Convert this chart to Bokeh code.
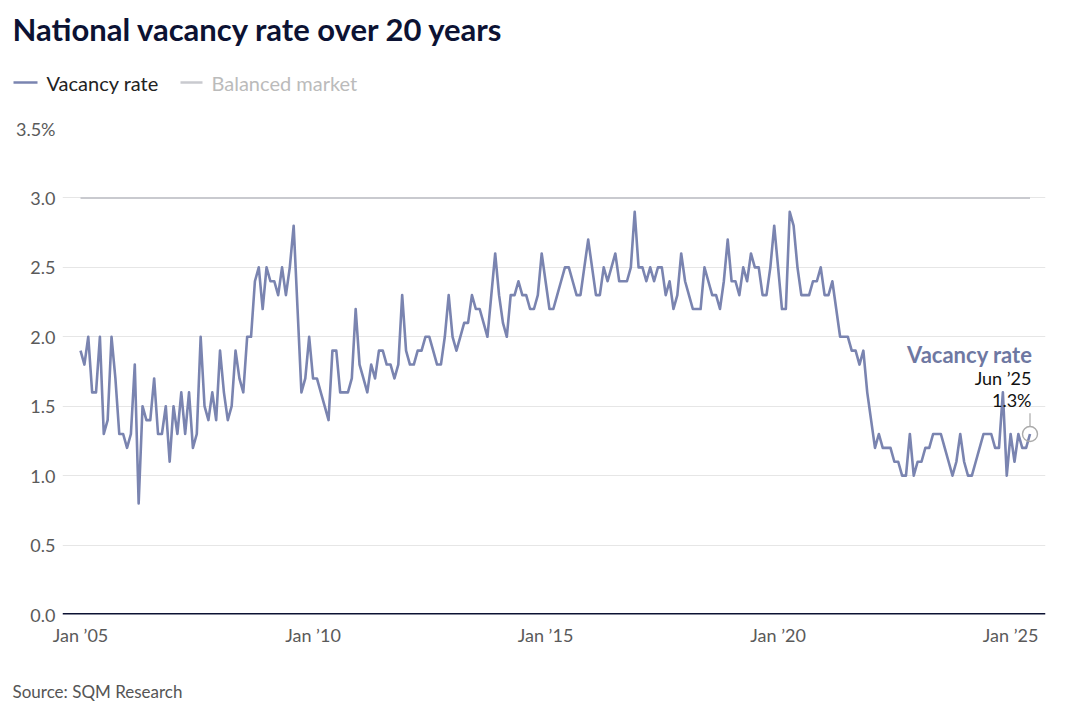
from bokeh.plotting import figure
from bokeh.layouts import column
from bokeh.models import Range1d, FixedTicker, Label, Span
from bokeh.embed import file_html
from bokeh.resources import INLINE

# Monthly national vacancy rate (%), Jan 2005 .. Jun 2025
vacancy_rate = [
    1.9, 1.8, 2.0, 1.6, 1.6, 2.0, 1.3, 1.4, 2.0, 1.7, 1.3, 1.3,
    1.2, 1.3, 1.8, 0.8, 1.5, 1.4, 1.4, 1.7, 1.3, 1.3, 1.5, 1.1,
    1.5, 1.3, 1.6, 1.3, 1.6, 1.2, 1.3, 2.0, 1.5, 1.4, 1.6, 1.4,
    1.9, 1.6, 1.4, 1.5, 1.9, 1.7, 1.6, 2.0, 2.0, 2.4, 2.5, 2.2,
    2.5, 2.4, 2.4, 2.3, 2.5, 2.3, 2.5, 2.8, 2.2, 1.6, 1.7, 2.0,
    1.7, 1.7, 1.6, 1.5, 1.4, 1.9, 1.9, 1.6, 1.6, 1.6, 1.7, 2.2,
    1.8, 1.7, 1.6, 1.8, 1.7, 1.9, 1.9, 1.8, 1.8, 1.7, 1.8, 2.3,
    1.9, 1.8, 1.8, 1.9, 1.9, 2.0, 2.0, 1.9, 1.8, 1.8, 2.0, 2.3,
    2.0, 1.9, 2.0, 2.1, 2.1, 2.3, 2.2, 2.2, 2.1, 2.0, 2.3, 2.6,
    2.3, 2.1, 2.0, 2.3, 2.3, 2.4, 2.3, 2.3, 2.2, 2.2, 2.3, 2.6,
    2.4, 2.2, 2.2, 2.3, 2.4, 2.5, 2.5, 2.4, 2.3, 2.3, 2.5, 2.7,
    2.5, 2.3, 2.3, 2.5, 2.4, 2.5, 2.6, 2.4, 2.4, 2.4, 2.5, 2.9,
    2.5, 2.5, 2.4, 2.5, 2.4, 2.5, 2.5, 2.3, 2.4, 2.2, 2.3, 2.6,
    2.4, 2.3, 2.2, 2.2, 2.2, 2.5, 2.4, 2.3, 2.3, 2.2, 2.4, 2.7,
    2.4, 2.4, 2.3, 2.5, 2.4, 2.6, 2.5, 2.5, 2.3, 2.3, 2.5, 2.8,
    2.5, 2.2, 2.2, 2.9, 2.8, 2.5, 2.3, 2.3, 2.3, 2.4, 2.4, 2.5,
    2.3, 2.3, 2.4, 2.2, 2.0, 2.0, 2.0, 1.9, 1.9, 1.8, 1.9, 1.6,
    1.4, 1.2, 1.3, 1.2, 1.2, 1.2, 1.1, 1.1, 1.0, 1.0, 1.3, 1.0,
    1.1, 1.1, 1.2, 1.2, 1.3, 1.3, 1.3, 1.2, 1.1, 1.0, 1.1, 1.3,
    1.1, 1.0, 1.0, 1.1, 1.2, 1.3, 1.3, 1.3, 1.2, 1.2, 1.6, 1.0,
    1.3, 1.1, 1.3, 1.2, 1.2, 1.3,
]
balanced_market = 3.0

x_tick_months = [0, 60, 120, 180, 240]
x_tick_labels = ["Jan \u201905", "Jan \u201910", "Jan \u201915", "Jan \u201920", "Jan \u201925"]
y_ticks = [0.0, 0.5, 1.0, 1.5, 2.0, 2.5, 3.0, 3.5]
y_tick_labels = ["0.0", "0.5", "1.0", "1.5", "2.0", "2.5", "3.0", "3.5%"]

title_text = "National vacancy rate over 20 years"
source_text = "Source: SQM Research"
series_name = "Vacancy rate"
balanced_name = "Balanced market"
last_period = "Jun \u201925"

months = list(range(len(vacancy_rate)))

FONT = "Lato"
LINE_COLOR = "#7a84b0"
GREY_LINE = "#c9cacf"
NAVY = "#0c1233"

HEADER_H = 110
MAIN_H = 550
FOOTER_H = 714 - HEADER_H - MAIN_H


def blank_panel(h):
    f = figure(width=1080, height=h, output_backend="svg", toolbar_location=None,
               x_range=Range1d(0, 1080), y_range=Range1d(h, 0),
               x_axis_type=None, y_axis_type=None,
               min_border_left=0, min_border_right=0, min_border_top=0,
               min_border_bottom=0)
    f.frame_align = False
    f.title.visible = False
    f.outline_line_color = None
    f.background_fill_color = "white"
    f.border_fill_color = "white"
    return f


# ---------------- header: title + legend (pixel space) ----------------
head = blank_panel(HEADER_H)
head.add_layout(Label(x=12, y=28, text=title_text, text_align="left",
                      text_baseline="alphabetic", text_font=FONT,
                      text_font_style="bold", text_font_size="31px", text_color=NAVY))

legend_names = [series_name, balanced_name]
legend_colors = [LINE_COLOR, GREY_LINE]
legend_text_colors = ["#222222", "#bbbbbb"]
legend_x0 = [13, 180]
legend_x1 = [37, 202]
LEG_Y = 82
head.segment(x0=legend_x0, y0=[LEG_Y] * 2, x1=legend_x1, y1=[LEG_Y] * 2,
             line_color=legend_colors, line_width=2.6)
for name, x1, tc in zip(legend_names, legend_x1, legend_text_colors):
    head.add_layout(Label(x=x1 + 9, y=LEG_Y, text=name, text_align="left",
                          text_baseline="middle", text_font=FONT,
                          text_font_size="20px", text_color=tc))

# ---------------- main chart ----------------
p = figure(width=1080, height=MAIN_H, output_backend="svg", toolbar_location=None,
           x_range=Range1d(-4.65, 249.0), y_range=Range1d(0, 3.5),
           min_border_left=62, min_border_right=35, min_border_top=18,
           min_border_bottom=MAIN_H - 18 - 486)
p.frame_align = False
p.title.visible = False
p.outline_line_color = None
p.background_fill_color = "white"
p.border_fill_color = "white"

p.xaxis.ticker = FixedTicker(ticks=x_tick_months)
p.xaxis.major_label_overrides = dict(zip(x_tick_months, x_tick_labels))
p.yaxis.ticker = FixedTicker(ticks=y_ticks)
p.yaxis.major_label_overrides = dict(zip(y_ticks, y_tick_labels))
for ax in (p.xaxis, p.yaxis):
    ax.axis_line_color = None
    ax.major_tick_line_color = None
    ax.minor_tick_line_color = None
    ax.major_tick_out = 0
    ax.major_tick_in = 0
    ax.minor_tick_out = 0
    ax.major_label_text_font = FONT
    ax.major_label_text_font_size = "18px"
    ax.major_label_text_color = "#5a5a5a"
p.xaxis.major_label_standoff = 9
p.yaxis.major_label_standoff = 7

p.xgrid.visible = False
p.ygrid.ticker = FixedTicker(ticks=y_ticks)
p.ygrid.grid_line_color = "#e6e6e6"
p.ygrid.grid_line_width = 1

# balanced market line
p.line(x=[months[0], months[-1]], y=[balanced_market, balanced_market],
       line_color=GREY_LINE, line_width=2)
# vacancy rate
p.line(x=months, y=vacancy_rate, line_color=LINE_COLOR, line_width=2.6,
       line_join="round")

# zero baseline
p.add_layout(Span(location=0, dimension="width", line_color=NAVY, line_width=3))

# end marker + leader
last_x = months[-1]
last_y = vacancy_rate[-1]
p.segment(x0=[last_x], y0=[last_y + 0.055], x1=[last_x], y1=[last_y + 0.15],
          line_color="#aaaaaa", line_width=1.2)
p.scatter(x=[last_x], y=[last_y], size=15, marker="circle", fill_color=None,
          line_color="#aaaaaa", line_width=1.4)

# end labels (screen units from frame bottom-left)
p.add_layout(Label(x=970, y=260, x_units="screen", y_units="screen", text=series_name,
                   text_align="right", text_baseline="middle", text_font=FONT,
                   text_font_style="bold", text_font_size="22px", text_color="#6e78a2"))
p.add_layout(Label(x=969, y=237, x_units="screen", y_units="screen", text=last_period,
                   text_align="right", text_baseline="middle", text_font=FONT,
                   text_font_size="18px", text_color="#111111"))
p.add_layout(Label(x=969, y=215, x_units="screen", y_units="screen",
                   text=f"{last_y:.1f}%",
                   text_align="right", text_baseline="middle", text_font=FONT,
                   text_font_size="18px", text_color="#111111"))

# ---------------- footer: source ----------------
foot = blank_panel(FOOTER_H)
foot.add_layout(Label(x=12, y=691 - HEADER_H - MAIN_H, text=source_text,
                      text_align="left", text_baseline="middle", text_font=FONT,
                      text_font_size="17px", text_color="#555555"))

layout = column(head, p, foot, spacing=0)
open("out.html", "w").write(file_html(layout, INLINE))
